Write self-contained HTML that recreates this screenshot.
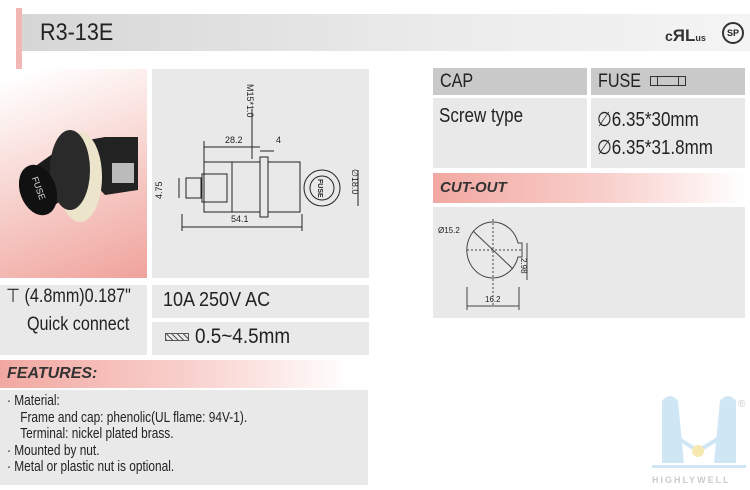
<!DOCTYPE html>
<html><head><meta charset="utf-8"><style>
*{margin:0;padding:0;box-sizing:border-box}
body{width:750px;height:490px;background:#fff;position:relative;overflow:hidden;font-family:"Liberation Sans",sans-serif;color:#222}
.a{position:absolute}
.g{background:#e9e9e9}
.t{font-size:19px;transform:scaleX(.85);transform-origin:left;white-space:nowrap}
</style></head><body>
<div class="a" style="left:16px;top:8px;width:6px;height:64px;background:#f2b7b4"></div>
<div class="a" style="left:22px;top:14px;width:728px;height:37px;background:linear-gradient(90deg,#d6d6d6,#ececec 60%,#f4f4f4)"></div>
<div class="a" style="left:40px;top:19px;font-size:24px;transform:scaleX(.9);transform-origin:left">R3-13E</div>
<div class="a" style="left:665px;top:26px;font-size:14px;font-weight:bold;color:#333">c<span style="font-size:17px">ЯL</span><span style="font-size:9px">us</span></div>
<div class="a" style="left:722px;top:22px;width:22px;height:22px;border:2px solid #333;border-radius:50%;font-size:9px;font-weight:bold;text-align:center;line-height:18px">SP</div>

<div class="a" style="left:0;top:69px;width:147px;height:209px;background:linear-gradient(160deg,#fff 5%,#f8d8d4 45%,#f0a39c 100%)"></div>
<svg class="a" style="left:10px;top:125px" width="130" height="100">
<path d="M50 20 L95 12 L128 12 L128 65 L95 70 Z" fill="#222"/>
<rect x="102" y="38" width="22" height="20" fill="#bbb"/>
<ellipse cx="70" cy="52" rx="22" ry="45" fill="#ece5cc"/>
<path d="M20 45 L55 20 L70 60 L35 88 Z" fill="#1b1b1b"/>
<ellipse cx="60" cy="45" rx="20" ry="40" fill="#2a2a2a"/>
<ellipse cx="28" cy="65" rx="18" ry="26" fill="#111" transform="rotate(-20 28 65)"/>
<text x="14" y="56" fill="#ddd" font-size="9" transform="rotate(70 20 60)">FUSE</text>
</svg>

<div class="a g" style="left:152px;top:69px;width:217px;height:209px"></div>
<svg class="a" style="left:152px;top:69px" width="217" height="209" font-family="Liberation Sans" font-size="9" fill="#222">
<g stroke="#222" fill="none" stroke-width="1">
<rect x="34" y="109" width="15" height="20"/><rect x="50" y="105" width="25" height="28"/>
<rect x="52" y="93" width="28" height="50"/><rect x="80" y="93" width="28" height="50"/>
<rect x="108" y="88" width="8" height="60"/><rect x="116" y="93" width="32" height="50"/>
<circle cx="170" cy="119" r="18"/><circle cx="170" cy="119" r="12"/>
<line x1="52" y1="78" x2="108" y2="78"/><line x1="108" y1="82" x2="122" y2="82"/>
<line x1="30" y1="158" x2="150" y2="158"/><line x1="30" y1="145" x2="30" y2="162"/><line x1="150" y1="145" x2="150" y2="162"/>
<line x1="52" y1="72" x2="52" y2="93"/><line x1="27" y1="109" x2="27" y2="129"/>
<line x1="206" y1="101" x2="206" y2="137"/><line x1="100" y1="40" x2="100" y2="90"/>
</g>
<text x="73" y="74">28.2</text><text x="124" y="74">4</text><text x="79" y="153">54.1</text>
<text transform="translate(10,130) rotate(-90)">4.75</text>
<text transform="translate(95,15) rotate(90)">M15*1.0</text>
<text transform="translate(200,100) rotate(90)">∅18.0</text>
<text transform="translate(166,110) rotate(90)" font-size="7" font-weight="bold">FUSE</text>
</svg>

<div class="a g" style="left:0;top:285px;width:147px;height:70px"></div>
<div class="a t" style="left:6px;top:285px">⊤ (4.8mm)0.187"</div>
<div class="a t" style="left:27px;top:314px">Quick connect</div>
<div class="a g" style="left:152px;top:285px;width:217px;height:33px"></div>
<div class="a" style="left:163px;top:289px;font-size:20px;transform:scaleX(.9);transform-origin:left;white-space:nowrap">10A 250V AC</div>
<div class="a g" style="left:152px;top:322px;width:217px;height:33px"></div>
<div class="a" style="left:165px;top:333px;width:24px;height:8px;background:repeating-linear-gradient(45deg,#555 0 1px,#e9e9e9 1px 4px);border:1px solid #555"></div>
<div class="a" style="left:195px;top:325px;font-size:21px;transform:scaleX(.9);transform-origin:left;white-space:nowrap">0.5~4.5mm</div>

<div class="a" style="left:0;top:360px;width:370px;height:28px;background:linear-gradient(90deg,#f2a8a2,#f8cfcb 50%,#fff 95%)"></div>
<div class="a" style="left:7px;top:365px;font-size:16px;font-style:italic;font-weight:bold;color:#333">FEATURES:</div>
<div class="a g" style="left:0;top:390px;width:368px;height:95px"></div>
<div class="a" style="left:7px;top:393px;font-size:14.5px;line-height:16.5px;transform:scaleX(.82);transform-origin:left;white-space:nowrap">· Material:<br>&nbsp;&nbsp;&nbsp;&nbsp;Frame and cap: phenolic(UL flame: 94V-1).<br>&nbsp;&nbsp;&nbsp;&nbsp;Terminal: nickel plated brass.<br>· Mounted by nut.<br>· Metal or plastic nut is optional.</div>

<div class="a" style="left:433px;top:68px;width:154px;height:27px;background:#c9c9c9"></div>
<div class="a t" style="left:440px;top:71px">CAP</div>
<div class="a" style="left:591px;top:68px;width:154px;height:27px;background:#c9c9c9"></div>
<div class="a t" style="left:598px;top:71px">FUSE</div>
<div class="a" style="left:650px;top:76px;width:36px;height:10px;border:1px solid #333"></div>
<div class="a" style="left:657px;top:76px;width:22px;height:10px;border-left:1px solid #333;border-right:1px solid #333"></div>
<div class="a g" style="left:433px;top:98px;width:154px;height:70px"></div>
<div class="a g" style="left:591px;top:98px;width:154px;height:70px"></div>
<div class="a" style="left:439px;top:105px;font-size:20px;transform:scaleX(.85);transform-origin:left;white-space:nowrap">Screw type</div>
<div class="a" style="left:597px;top:106px;font-size:20px;line-height:28px;transform:scaleX(.85);transform-origin:left;white-space:nowrap">∅6.35*30mm<br>∅6.35*31.8mm</div>
<div class="a" style="left:433px;top:173px;width:312px;height:30px;background:linear-gradient(90deg,#f2a8a2,#f8cfcb 55%,#fff 100%)"></div>
<div class="a" style="left:440px;top:179px;font-size:15px;font-style:italic;font-weight:bold;color:#333">CUT-OUT</div>
<div class="a g" style="left:433px;top:207px;width:312px;height:111px"></div>
<svg class="a" style="left:433px;top:207px" width="120" height="111" font-family="Liberation Sans" font-size="8" fill="#222">
<g stroke="#444" fill="none">
<path d="M85 36 A26 28 0 1 0 85 50 L89 50 L89 36 Z"/>
<line x1="60" y1="12" x2="60" y2="100" stroke-dasharray="2 2"/>
<line x1="34" y1="43" x2="88" y2="43" stroke-dasharray="2 2"/>
<line x1="40" y1="24" x2="80" y2="62"/>
<line x1="34" y1="80" x2="34" y2="103"/><line x1="86" y1="80" x2="86" y2="103"/><line x1="34" y1="99" x2="86" y2="99"/>
<line x1="94" y1="36" x2="94" y2="73"/>
</g>
<text x="5" y="26">Ø15.2</text><text x="52" y="95">16.2</text>
<text transform="translate(88,51) rotate(90)">2.98</text>
</svg>

<svg class="a" style="left:650px;top:393px" width="100" height="95">
<path d="M12 8 Q20 -2 28 8 L34 70 L12 70 Z" fill="#cfe6f5"/>
<path d="M70 8 Q78 -2 86 8 L86 70 L64 70 Z" fill="#cfe6f5"/>
<path d="M20 40 L48 58 L78 40" stroke="#cfe6f5" stroke-width="4" fill="none"/>
<circle cx="48" cy="58" r="6" fill="#f6e9b0"/>
<rect x="2" y="72" width="94" height="3" fill="#cfe6f5"/>
<text x="2" y="90" font-family="Liberation Sans" font-weight="bold" font-size="9" fill="#ccc" letter-spacing="2">HIGHLYWELL</text>
<text x="88" y="14" font-size="10" fill="#ccc">®</text>
</svg>
</body></html>
